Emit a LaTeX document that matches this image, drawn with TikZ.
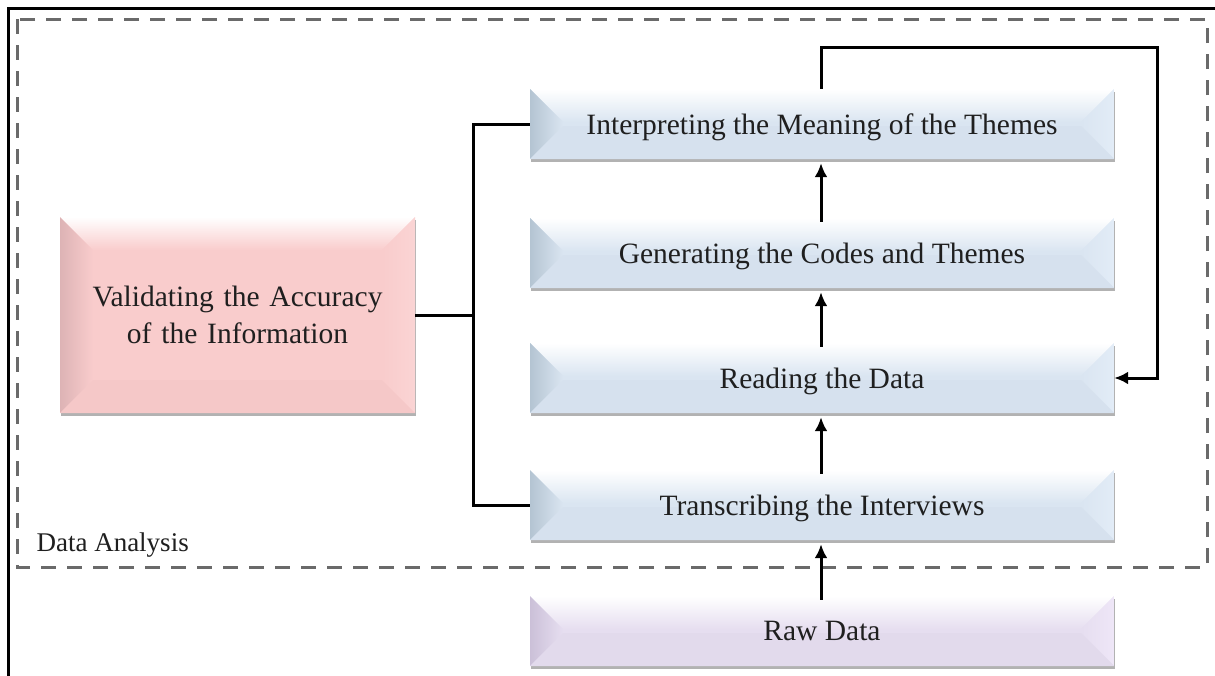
\documentclass[tikz,border=0pt]{standalone}
\usepackage{fontspec}
\setmainfont{Liberation Serif}
\usetikzlibrary{arrows.meta,shadows}
\tikzset{
  bevelbox/.style n args={4}{
    fill=#1, draw=none, inner sep=0pt, align=center,
    font=\fontsize{29.5}{37}\selectfont, text=black!88,
    drop shadow={shadow xshift=1pt, shadow yshift=-3pt, fill=black, opacity=0.3},
    path picture={
      \coordinate (nw) at (path picture bounding box.north west);
      \coordinate (ne) at (path picture bounding box.north east);
      \coordinate (sw) at (path picture bounding box.south west);
      \coordinate (se) at (path picture bounding box.south east);
      \shade[top color=white, bottom color=#1] (nw) -- (ne) -- ([xshift=-33pt,yshift=-33pt]ne) -- ([xshift=33pt,yshift=-33pt]nw) -- cycle;
      \shade[left color=#2, right color=#1] (nw) -- ([xshift=33pt,yshift=-33pt]nw) -- ([xshift=33pt,yshift=33pt]sw) -- (sw) -- cycle;
      \shade[left color=#1, right color=#3] (ne) -- ([xshift=-33pt,yshift=-33pt]ne) -- ([xshift=-33pt,yshift=33pt]se) -- (se) -- cycle;
      \fill[#4] (sw) -- ([xshift=33pt,yshift=33pt]sw) -- ([xshift=-33pt,yshift=33pt]se) -- (se) -- cycle;
    }},
  bluebox/.style={bevelbox={blueF}{blueL}{blueR}{blueB}, minimum width=584pt, minimum height=70pt, text depth=0pt},
  conn/.style={line width=3pt, black},
  arr/.style={conn, -{Latex[length=14pt,width=13pt]}},
}
\definecolor{blueF}{HTML}{DAE5F1}
\definecolor{blueL}{HTML}{B4C4D2}
\definecolor{blueR}{HTML}{E2ECF7}
\definecolor{blueB}{HTML}{D6E1EE}
\definecolor{pinkF}{HTML}{F9CCCC}
\definecolor{pinkL}{HTML}{DDB3B5}
\definecolor{pinkR}{HTML}{FAD4D4}
\definecolor{pinkB}{HTML}{F5C8C8}
\definecolor{purpF}{HTML}{E6DEF0}
\definecolor{purpL}{HTML}{CBC0D8}
\definecolor{purpR}{HTML}{EEE6F7}
\definecolor{purpB}{HTML}{E2DAEC}
\definecolor{dashgray}{HTML}{6A6A6A}
\begin{document}
\begin{tikzpicture}[x=1pt,y=-1pt]
\useasboundingbox (0,0) rectangle (1215,675);
\fill[white] (0,0) rectangle (1215,675);
% outer frame
\draw[line width=2.4pt, black] (8.5,700) -- (8.5,8.5) -- (1230,8.5);
% dashed group
\draw[dashgray, line width=3pt, dash pattern=on 15pt off 11pt] (17,19) rectangle (1207,567);
\node[anchor=west, font=\fontsize{27}{32}\selectfont, text=black!88] (lbl) at (33,545) {Data Analysis};

\node[bluebox] (interp) at (822,124) {Interpreting the Meaning of the Themes};
\node[bluebox] (gen) at (822,253) {Generating the Codes and Themes};
\node[bluebox] (read) at (822,378) {Reading the Data};
\node[bluebox] (trans) at (822,505) {Transcribing the Interviews};
\node[bevelbox={purpF}{purpL}{purpR}{purpB}, minimum width=584pt, minimum height=70pt, text depth=0pt] (raw) at (822,631) {Raw Data};
\node[bevelbox={pinkF}{pinkL}{pinkR}{pinkB}, minimum width=355pt, minimum height=196pt, text width=330pt] (valid) at (237.5,315) {Validating the Accuracy\\of the Information};

% connectors
\coordinate (j) at (473,315);
\draw[conn] (valid.east) -- (j);
\draw[conn] (interp.west) -| (j) |- (trans.west);

\draw[arr] ([yshift=-4pt]trans.north -| 821,0) -- ([yshift=-4pt]read.south -| 821,0);
\draw[arr] ([yshift=-4pt]read.north -| 821,0) -- ([yshift=-4pt]gen.south -| 821,0);
\draw[arr] ([yshift=-4pt]gen.north -| 821,0) -- ([yshift=-4pt]interp.south -| 821,0);
\draw[arr] ([yshift=-4pt]raw.north -| 821,0) -- ([yshift=-4pt]trans.south -| 821,0);

\coordinate (fb1) at (821,47);
\coordinate (fb2) at (1157,47);
\draw[arr] (interp.north -| fb1) -- (fb1) -- (fb2) |- (read.east);
\end{tikzpicture}
\end{document}
